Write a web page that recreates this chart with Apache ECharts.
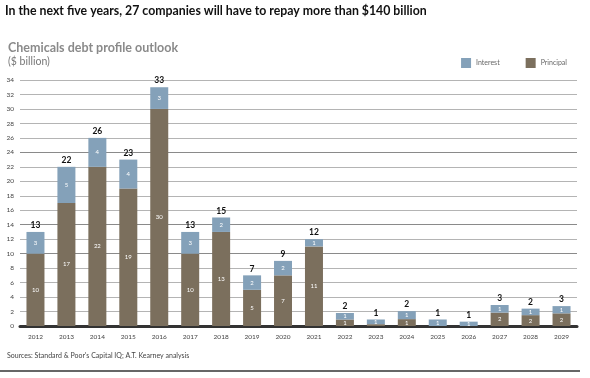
<!DOCTYPE html>
<html><head><meta charset="utf-8">
<script src="https://cdn.jsdelivr.net/npm/echarts@6/dist/echarts.min.js"></script>
<style>html,body{margin:0;padding:0;background:#fff}#c{width:590px;height:378px}</style>
</head><body><div id="c"></div>
<script>
var years = ['2012','2013','2014','2015','2016','2017','2018','2019','2020','2021','2022','2023','2024','2025','2026','2027','2028','2029'];
var principal = [10,17,22,19,30,10,13,5,7,11,0.9,0.25,0.95,0,0,1.85,1.5,1.75];
var interest  = [3,5,4,4,3,3,2,2,2,1,0.9,0.65,1.1,0.9,0.6,1.05,0.9,1.0];
var totals    = [13,22,26,23,33,13,15,7,9,12,2,1,2,1,1,3,2,3];
var yTicks = [0,2,4,6,8,10,12,14,16,18,20,22,24,26,28,30,32,34];

var font = 'Lato, "Liberation Sans", sans-serif';
var gridColors = yTicks.map(function(v){ return (v===10||v===14||v===24) ? '#8a8a8a' : '#b4b4b4'; });

var chart = echarts.init(document.getElementById('c'), null, {renderer:'canvas'});
var innerLabel = {
  show: true, position: 'inside', color: '#fff', fontSize: 6, fontFamily: font,
  formatter: function(p){ return p.value >= 0.5 ? String(Math.round(p.value)) : ''; }
};
chart.setOption({
  animation: false,
  textStyle: {fontFamily: font},
  title: [
    {text: 'In the next five years, 27 companies will have to repay more than $140 billion', left: 0, top: 0,
     textStyle: {fontSize: 12.3, fontWeight: 'bold', color: '#111', fontFamily: font}},
    {text: 'Chemicals debt profile outlook', left: 3, top: 36,
     textStyle: {fontSize: 12.5, fontWeight: 'bold', color: '#8a8a8a', fontFamily: font}},
    {text: '($ billion)', left: 3, top: 51,
     textStyle: {fontSize: 10.5, fontWeight: 'normal', color: '#777', fontFamily: font}},
    {text: "Sources: Standard & Poor's Capital IQ; A.T. Kearney analysis", left: 2, top: 347,
     textStyle: {fontSize: 7, fontWeight: 'normal', color: '#444', fontFamily: font}}
  ],
  legend: {
    right: 18, top: 53, itemWidth: 10, itemHeight: 10, itemGap: 26,
    icon: 'rect',
    textStyle: {fontSize: 7, color: '#666', fontFamily: font},
    data: ['Interest','Principal']
  },
  grid: {left: 20, right: 13, top: 80, bottom: 52, containLabel: false},
  xAxis: {
    type: 'category', data: years,
    axisLine: {show: true, lineStyle: {color: '#333', width: 3}},
    axisTick: {show: false},
    axisLabel: {fontSize: 6.5, color: '#444', margin: 7, fontFamily: font}
  },
  yAxis: {
    type: 'value', min: 0, max: 34, interval: 2,
    axisLine: {show: false}, axisTick: {show: false},
    axisLabel: {fontSize: 6.5, color: '#444', margin: 6, fontFamily: font},
    splitLine: {lineStyle: {color: gridColors, width: 1.2}}
  },
  series: [
    {name: 'Principal', type: 'bar', stack: 'd', data: principal, barWidth: 18,
     itemStyle: {color: '#7b6f5d'}, label: innerLabel},
    {name: 'Interest', type: 'bar', stack: 'd', data: interest, barWidth: 18,
     itemStyle: {color: '#84a1b9'}, label: innerLabel},
    {name: 'Total', type: 'bar', stack: 'd', data: totals.map(function(){return 0;}), barWidth: 18,
     itemStyle: {color: 'transparent'},
     label: {show: true, position: 'top', distance: 2, color: '#111', fontSize: 8.5, fontWeight: 'bold', fontFamily: font,
       formatter: function(p){ return String(totals[p.dataIndex]); }}}
  ],
  graphic: [
    {type: 'line', shape: {x1: 0, y1: 371, x2: 580, y2: 371}, style: {stroke: '#666', lineWidth: 2}}
  ]
});
</script>
</body></html>
